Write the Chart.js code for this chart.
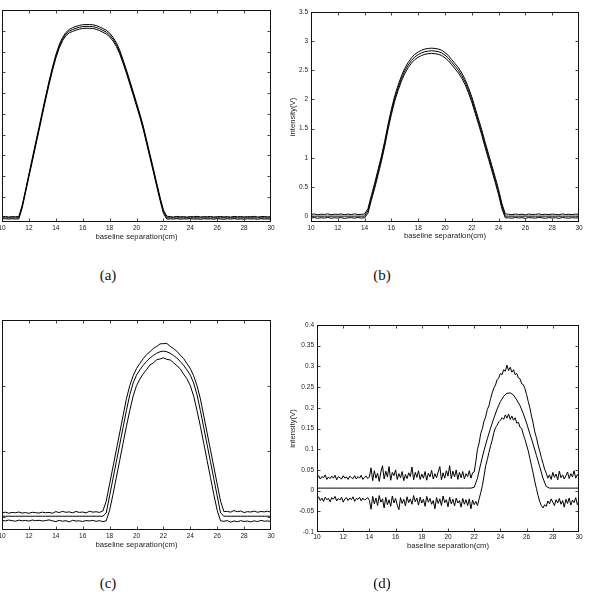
<!DOCTYPE html>
<html><head><meta charset="utf-8">
<script src="https://cdn.jsdelivr.net/npm/chart.js@4.4.1/dist/chart.umd.min.js"></script>
<style>
html,body{margin:0;padding:0;background:#fff;}
body{width:589px;height:592px;overflow:hidden;position:relative;}
canvas{position:absolute;}
.cap{position:absolute;font-family:"Liberation Serif","DejaVu Serif",serif;font-size:15px;color:#111;transform:translate(-50%,-50%);white-space:nowrap;line-height:1;}
</style></head><body>
<canvas id="ca" width="320" height="250" style="left:-30px;top:0px"></canvas>
<canvas id="cb" width="319" height="250" style="left:270px;top:0px"></canvas>
<canvas id="cc" width="320" height="250" style="left:-30px;top:310px"></canvas>
<canvas id="cd" width="319" height="250" style="left:270px;top:310px"></canvas>
<div class="cap" style="left:108px;top:275px">(a)</div>
<div class="cap" style="left:382px;top:275px">(b)</div>
<div class="cap" style="left:108px;top:583px">(c)</div>
<div class="cap" style="left:382px;top:583px">(d)</div>
<script>
// ---------- tick labels ----------
const xTicks = [10,12,14,16,18,20,22,24,26,28,30];
const aYTicks = [0,0.5,1,1.5,2,2.5,3,3.5,4,4.5,5];
const bYTicks = [0,0.5,1,1.5,2,2.5,3,3.5];
const cYTicks = [0,0.5,1,1.5];
const dYTicks = [-0.1,-0.05,0,0.05,0.1,0.15,0.2,0.25,0.3,0.35,0.4];
const xTitle = 'baseline separation(cm)';
const yTitle = 'intensity(V)';

// ---------- sample positions (cm) ----------
const grid025 = [10,10.25,10.5,10.75,11,11.25,11.5,11.75,12,12.25,12.5,12.75,13,13.25,13.5,13.75,14,14.25,14.5,14.75,15,15.25,15.5,15.75,16,16.25,16.5,16.75,17,17.25,17.5,17.75,18,18.25,18.5,18.75,19,19.25,19.5,19.75,20,20.25,20.5,20.75,21,21.25,21.5,21.75,22,22.25,22.5,22.75,23,23.25,23.5,23.75,24,24.25,24.5,24.75,25,25.25,25.5,25.75,26,26.25,26.5,26.75,27,27.25,27.5,27.75,28,28.25,28.5,28.75,29,29.25,29.5,29.75,30];
const grid0125 = [10,10.125,10.25,10.375,10.5,10.625,10.75,10.875,
11,11.125,11.25,11.375,11.5,11.625,11.75,11.875,
12,12.125,12.25,12.375,12.5,12.625,12.75,12.875,
13,13.125,13.25,13.375,13.5,13.625,13.75,13.875,
14,14.125,14.25,14.375,14.5,14.625,14.75,14.875,
15,15.125,15.25,15.375,15.5,15.625,15.75,15.875,
16,16.125,16.25,16.375,16.5,16.625,16.75,16.875,
17,17.125,17.25,17.375,17.5,17.625,17.75,17.875,
18,18.125,18.25,18.375,18.5,18.625,18.75,18.875,
19,19.125,19.25,19.375,19.5,19.625,19.75,19.875,
20,20.125,20.25,20.375,20.5,20.625,20.75,20.875,
21,21.125,21.25,21.375,21.5,21.625,21.75,21.875,
22,22.125,22.25,22.375,22.5,22.625,22.75,22.875,
23,23.125,23.25,23.375,23.5,23.625,23.75,23.875,
24,24.125,24.25,24.375,24.5,24.625,24.75,24.875,
25,25.125,25.25,25.375,25.5,25.625,25.75,25.875,
26,26.125,26.25,26.375,26.5,26.625,26.75,26.875,
27,27.125,27.25,27.375,27.5,27.625,27.75,27.875,
28,28.125,28.25,28.375,28.5,28.625,28.75,28.875,
29,29.125,29.25,29.375,29.5,29.625,29.75,29.875,30];

// ---------- panel (a) ----------
const aUpper = [0.025,0.035,0.02,0.03,0.028,0.03,
0.30,0.67,1.05,1.43,1.81,2.18,2.56,2.93,3.29,3.62,3.92,4.16,4.34,4.46,4.53,4.575,4.605,4.63,4.645,4.65,4.65,4.645,4.625,4.595,4.555,4.515,4.445,4.345,4.215,4.035,3.80,3.56,3.30,3.04,2.77,2.50,2.21,1.87,1.53,1.19,0.84,0.50,0.19,0.04,
0.03,0.02,0.035,0.025,0.03,0.018,0.032,0.027,0.036,0.022,0.03,0.025,0.034,0.02,0.028,0.033,0.024,0.03,0.019,0.035,0.026,0.031,0.022,0.03,0.027,0.036,0.021,0.029,0.033,0.024,0.03];
const aMiddle = [0,0,0,0,0,0,
0.27,0.64,1.02,1.39,1.77,2.14,2.52,2.89,3.25,3.58,3.88,4.12,4.30,4.42,4.49,4.53,4.56,4.585,4.60,4.605,4.605,4.60,4.58,4.55,4.51,4.47,4.40,4.30,4.17,3.99,3.76,3.52,3.26,3.00,2.73,2.46,2.17,1.83,1.49,1.15,0.80,0.46,0.15,0,
0,0,0,0,0,0,0,0,0,0,0,0,0,0,0,0,0,0,0,0,0,0,0,0,0,0,0,0,0,0,0];
const aLower = [-0.025,-0.02,-0.03,-0.022,-0.028,-0.025,
0.24,0.61,0.99,1.35,1.73,2.10,2.48,2.85,3.21,3.54,3.84,4.08,4.26,4.38,4.45,4.485,4.515,4.54,4.555,4.56,4.56,4.555,4.535,4.505,4.465,4.425,4.355,4.255,4.125,3.945,3.72,3.48,3.22,2.96,2.69,2.42,2.13,1.79,1.45,1.11,0.76,0.42,0.11,-0.03,
-0.025,-0.03,-0.02,-0.033,-0.024,-0.028,-0.018,-0.03,-0.026,-0.035,-0.021,-0.029,-0.025,-0.032,-0.02,-0.027,-0.034,-0.023,-0.029,-0.019,-0.031,-0.026,-0.033,-0.022,-0.028,-0.024,-0.036,-0.021,-0.03,-0.026,-0.029];

// ---------- panel (b) ----------
const bUpper = [0.03,0.038,0.025,0.034,0.029,0.04,0.024,0.033,0.03,0.037,0.026,0.035,0.028,0.039,0.027,0.032,0.036,
0.13,0.35,0.565,0.795,1.025,1.285,1.575,1.835,2.065,2.245,2.405,2.535,2.635,2.715,2.775,2.815,2.845,2.865,2.875,2.88,2.875,2.865,2.845,2.805,2.755,2.685,2.615,2.545,2.455,2.345,2.205,2.045,1.855,1.665,1.475,1.265,1.065,0.865,0.665,0.455,0.215,0.04,
0.032,0.025,0.037,0.028,0.034,0.022,0.036,0.029,0.031,0.039,0.026,0.033,0.027,0.035,0.03,0.024,0.038,0.028,0.033,0.026,0.036,0.03];
const bMiddle = [0,0,0,0,0,0,0,0,0,0,0,0,0,0,0,0,0,
0.09,0.31,0.52,0.75,0.98,1.24,1.53,1.79,2.02,2.20,2.36,2.49,2.59,2.67,2.73,2.77,2.80,2.82,2.83,2.835,2.83,2.82,2.80,2.76,2.71,2.64,2.57,2.50,2.41,2.30,2.16,2.00,1.81,1.62,1.43,1.22,1.02,0.82,0.62,0.41,0.17,0,
0,0,0,0,0,0,0,0,0,0,0,0,0,0,0,0,0,0,0,0,0,0];
const bLower = [-0.03,-0.024,-0.036,-0.027,-0.033,-0.022,-0.035,-0.028,-0.031,-0.025,-0.038,-0.029,-0.026,-0.034,-0.023,-0.032,-0.028,
0.05,0.27,0.475,0.705,0.935,1.195,1.485,1.745,1.975,2.155,2.315,2.445,2.545,2.625,2.685,2.725,2.755,2.775,2.785,2.79,2.785,2.775,2.755,2.715,2.665,2.595,2.525,2.455,2.365,2.255,2.115,1.955,1.765,1.575,1.385,1.175,0.975,0.775,0.575,0.365,0.125,-0.03,
-0.028,-0.035,-0.022,-0.031,-0.026,-0.037,-0.024,-0.03,-0.033,-0.021,-0.029,-0.035,-0.025,-0.032,-0.027,-0.038,-0.023,-0.03,-0.034,-0.026,-0.031,-0.028];

// ---------- panel (c) ----------
const cUpper = [0.030,0.036,0.028,0.034,0.031,0.037,0.029,0.033,0.027,0.035,0.032,0.029,0.036,0.031,0.034,0.028,0.040,0.033,0.042,0.035,0.038,0.031,0.041,0.034,0.037,0.030,0.043,0.036,0.039,0.034,
0.045,0.12,0.25,0.38,0.51,0.64,0.77,0.90,1.0,1.075,1.13,1.17,1.205,1.237,1.258,1.283,1.298,1.318,1.32,1.322,1.30,1.282,1.262,1.233,1.207,1.168,1.13,1.075,1.0,0.90,0.77,0.64,0.51,0.38,0.25,0.12,0.04,
0.042,0.036,0.048,0.039,0.045,0.033,0.040,0.037,0.044,0.035,0.041,0.038,0.043,0.036];
const cMiddle = [0.005,0.005,0.005,0.005,0.005,0.005,0.005,0.005,0.005,0.005,0.005,0.005,0.005,0.005,0.005,0.005,0.005,0.005,0.005,0.005,0.005,0.005,0.005,0.005,0.005,0.005,0.005,0.005,0.005,0.005,0.005,
0.03,0.16,0.29,0.42,0.55,0.68,0.81,0.93,1.02,1.08,1.12,1.155,1.185,1.21,1.23,1.247,1.258,1.263,1.258,1.247,1.23,1.21,1.185,1.155,1.12,1.08,1.02,0.93,0.81,0.68,0.55,0.42,0.29,0.16,0.03,
0.005,0.005,0.005,0.005,0.005,0.005,0.005,0.005,0.005,0.005,0.005,0.005,0.005,0.005,0.005];
const cLower = [-0.026,-0.031,-0.024,-0.029,-0.033,-0.025,-0.030,-0.027,-0.032,-0.024,-0.029,-0.026,-0.031,-0.028,-0.023,-0.030,-0.036,-0.027,-0.033,-0.029,-0.038,-0.026,-0.032,-0.030,-0.035,-0.028,-0.031,-0.027,-0.034,-0.029,-0.036,-0.03,
0.05,0.17,0.30,0.43,0.56,0.69,0.81,0.92,1.0,1.05,1.09,1.122,1.158,1.172,1.198,1.203,1.212,1.2,1.196,1.175,1.152,1.128,1.088,1.052,1.0,0.92,0.81,0.69,0.56,0.43,0.30,0.17,0.05,-0.03,
-0.034,-0.028,-0.040,-0.031,-0.037,-0.029,-0.035,-0.032,-0.038,-0.030,-0.036,-0.027,-0.033,-0.031,-0.035];

// ---------- panel (d) ----------
const dUpper = [0.030,0.036,0.028,0.034,0.031,0.038,0.027,0.033,0.029,0.035,0.030,0.037,0.026,0.034,0.031,0.028,0.036,0.030,0.033,0.027,0.035,0.031,0.029,0.036,0.028,0.034,0.030,0.037,0.027,0.032,0.035,0.029,0.033,
0.055,0.024,0.048,0.030,0.042,0.022,0.045,0.060,0.028,0.047,
0.033,0.058,0.025,0.044,0.036,0.050,0.027,0.041,0.031,0.046,
0.024,0.039,0.029,0.043,0.034,0.057,0.026,0.044,0.032,0.048,
0.027,0.040,0.030,0.046,0.025,0.042,0.033,0.049,0.028,0.041,
0.031,0.045,0.058,0.026,0.043,0.030,0.048,0.035,0.060,0.029,
0.047,0.033,0.050,0.027,0.044,0.031,0.046,0.028,0.041,0.034,
0.048,0.030,0.043,
0.045,0.07,0.10,0.115,0.138,0.150,0.168,0.178,0.196,0.205,
0.222,0.236,0.248,0.255,0.268,0.272,0.283,0.280,0.292,0.288,
0.303,0.290,0.298,0.286,0.292,0.280,0.283,0.272,0.270,0.258,
0.256,0.246,0.232,0.215,0.200,0.180,0.163,0.142,0.128,0.110,
0.096,0.080,0.066,0.052,0.042,0.030,0.038,0.027,0.044,0.032,
0.040,0.026,0.047,0.031,0.038,0.028,0.036,0.045,0.029,0.041,
0.033,0.048,0.030,0.039,0.034];
const dMiddle = [0.006,0.006,0.006,0.006,0.006,0.006,0.006,0.006,0.006,0.006,
0.006,0.006,0.006,0.006,0.006,0.006,0.006,0.006,0.006,0.006,
0.006,0.006,0.006,0.006,0.006,0.006,0.006,0.006,0.006,0.006,
0.006,0.006,0.006,0.006,0.006,0.006,0.006,0.006,0.006,0.006,
0.006,0.006,0.006,0.006,0.006,0.006,0.006,0.006,
0.008,0.03,0.065,0.097,0.125,0.151,0.175,0.197,0.215,0.228,0.235,0.236,0.231,0.219,0.205,0.186,0.163,0.137,0.112,0.085,0.058,0.03,0.01,
0.006,0.006,0.006,0.006,0.006,0.006,0.006,0.006,0.006,0.006];
const dLower = [-0.020,-0.015,-0.024,-0.018,-0.026,-0.016,-0.022,-0.019,-0.027,-0.017,-0.021,-0.014,-0.025,-0.019,-0.023,-0.016,-0.028,-0.020,-0.017,-0.024,-0.018,-0.022,-0.015,-0.026,-0.019,-0.021,-0.016,-0.025,-0.018,-0.023,-0.020,-0.017,-0.024,
-0.045,-0.014,-0.032,-0.018,-0.036,-0.012,-0.028,-0.020,-0.042,-0.016,
-0.034,-0.022,-0.038,-0.013,-0.030,-0.019,-0.035,-0.046,-0.017,-0.031,
-0.021,-0.037,-0.015,-0.029,-0.020,-0.033,-0.012,-0.027,-0.018,-0.035,
-0.016,-0.030,-0.021,-0.038,-0.014,-0.028,-0.019,-0.033,-0.024,-0.044,
-0.017,-0.031,-0.020,-0.036,-0.013,-0.029,-0.022,-0.039,-0.016,-0.032,
-0.021,-0.037,-0.018,-0.030,-0.024,-0.040,-0.019,-0.033,-0.022,-0.036,
-0.020,-0.044,-0.023,-0.034,-0.026,-0.036,
-0.02,-0.005,0.012,0.035,0.06,0.075,0.092,0.108,0.122,0.140,
0.152,0.158,0.166,0.170,0.176,0.172,0.183,0.175,0.185,0.172,
0.180,0.170,0.176,0.163,0.165,0.153,0.150,0.135,0.124,0.110,
0.096,0.078,0.060,0.042,0.022,0.005,-0.012,-0.026,-0.036,-0.042,
-0.034,-0.038,-0.025,-0.032,-0.020,-0.028,-0.036,-0.022,-0.030,-0.019,
-0.033,-0.024,-0.040,-0.021,-0.031,-0.018,-0.035,-0.023,-0.029,-0.017,
-0.034,-0.026];

// ---------- drawing ----------
Chart.defaults.font.family = "'Liberation Sans', Arial, sans-serif";
Chart.defaults.color = '#222';

const framePlugin = {
  id: 'frame',
  afterDraw(chart) {
    const {ctx, chartArea: a, scales} = chart;
    const L = Math.round(a.left) + 0.5, R = Math.round(a.right) - 0.5;
    const T = Math.round(a.top) + 0.5, B = Math.round(a.bottom) - 0.5;
    const tl = 3;
    ctx.save();
    ctx.strokeStyle = '#444';
    ctx.lineWidth = 1;
    ctx.beginPath();
    scales.x.ticks.forEach(t => {
      const px = Math.round(scales.x.getPixelForValue(t.value)) + 0.5;
      if (px <= L + 1 || px >= R - 1) return;
      ctx.moveTo(px, B); ctx.lineTo(px, B - tl);
      ctx.moveTo(px, T); ctx.lineTo(px, T + tl);
    });
    scales.y.ticks.forEach(t => {
      const py = Math.round(scales.y.getPixelForValue(t.value)) + 0.5;
      if (py <= T + 1 || py >= B - 1) return;
      ctx.moveTo(L, py); ctx.lineTo(L + tl, py);
      ctx.moveTo(R, py); ctx.lineTo(R - tl, py);
    });
    ctx.stroke();
    ctx.strokeStyle = '#111';
    ctx.strokeRect(L, T, R - L, B - T);
    ctx.restore();
  }
};

function makePanel(p) {
  const A = p.area;
  const lh = 7.7 * 1.2;
  new Chart(document.getElementById(p.id), {
    type: 'line',
    data: {
      datasets: p.series.map(s => ({
        data: s.x.map((x, i) => ({x: x, y: s.y[i]})),
        borderColor: '#000', borderWidth: 1, pointRadius: 0, tension: 0, fill: false
      }))
    },
    options: {
      responsive: false, animation: false, events: [],
      layout: {padding: {left: 0, top: A.t, right: p.w - A.r, bottom: 0}},
      plugins: {legend: {display: false}, tooltip: {enabled: false}},
      scales: {
        x: {
          type: 'linear', min: 10, max: 30,
          grid: {display: false, drawTicks: false}, border: {display: false},
          afterBuildTicks: sc => { sc.ticks = xTicks.map(v => ({value: v})); },
          afterFit: sc => { sc.height = p.h - A.b; },
          ticks: {padding: p.xTickPad, font: {size: 6.5}, color: '#222', maxRotation: 0, autoSkip: false, callback: v => String(v)},
          title: {display: true, text: xTitle, font: {size: 7.7}, color: '#222',
                  padding: {top: 0, bottom: (p.h - A.b) - p.xTitleOff - lh / 2}}
        },
        y: {
          type: 'linear', min: p.ymin, max: p.ymax,
          grid: {display: false, drawTicks: false}, border: {display: false},
          afterBuildTicks: sc => { sc.ticks = p.yTicks.map(v => ({value: v})); },
          afterFit: sc => { sc.width = A.l; },
          ticks: {padding: 3, font: {size: 6.5}, color: '#222', autoSkip: false, callback: v => String(v)},
          title: {display: true, text: yTitle, font: {size: 7.7}, color: '#222',
                  padding: {top: p.yTitleX - lh / 2, bottom: 0}}
        }
      }
    },
    plugins: [framePlugin]
  });
}

makePanel({id: 'ca', w: 320, h: 250, area: {l: 32, r: 301, t: 10, b: 222},
  ymin: -0.1, ymax: 5, yTicks: aYTicks, xTickPad: 2, xTitleOff: 14.5, yTitleX: 23,
  series: [{x: grid025, y: aUpper}, {x: grid025, y: aMiddle}, {x: grid025, y: aLower}]});
makePanel({id: 'cb', w: 319, h: 250, area: {l: 41, r: 309, t: 12, b: 222},
  ymin: -0.1, ymax: 3.5, yTicks: bYTicks, xTickPad: 2, xTitleOff: 14, yTitleX: 23,
  series: [{x: grid025, y: bUpper}, {x: grid025, y: bMiddle}, {x: grid025, y: bLower}]});
makePanel({id: 'cc', w: 320, h: 250, area: {l: 32, r: 301, t: 10, b: 220},
  ymin: -0.1, ymax: 1.5, yTicks: cYTicks, xTickPad: 2.5, xTitleOff: 15, yTitleX: 23,
  series: [{x: grid025, y: cUpper}, {x: grid025, y: cMiddle}, {x: grid025, y: cLower}]});
makePanel({id: 'cd', w: 319, h: 250, area: {l: 47, r: 309, t: 15, b: 222},
  ymin: -0.1, ymax: 0.4, yTicks: dYTicks, xTickPad: 1.5, xTitleOff: 13.5, yTitleX: 23,
  series: [{x: grid0125, y: dUpper}, {x: grid025, y: dMiddle}, {x: grid0125, y: dLower}]});
</script>
</body></html>
